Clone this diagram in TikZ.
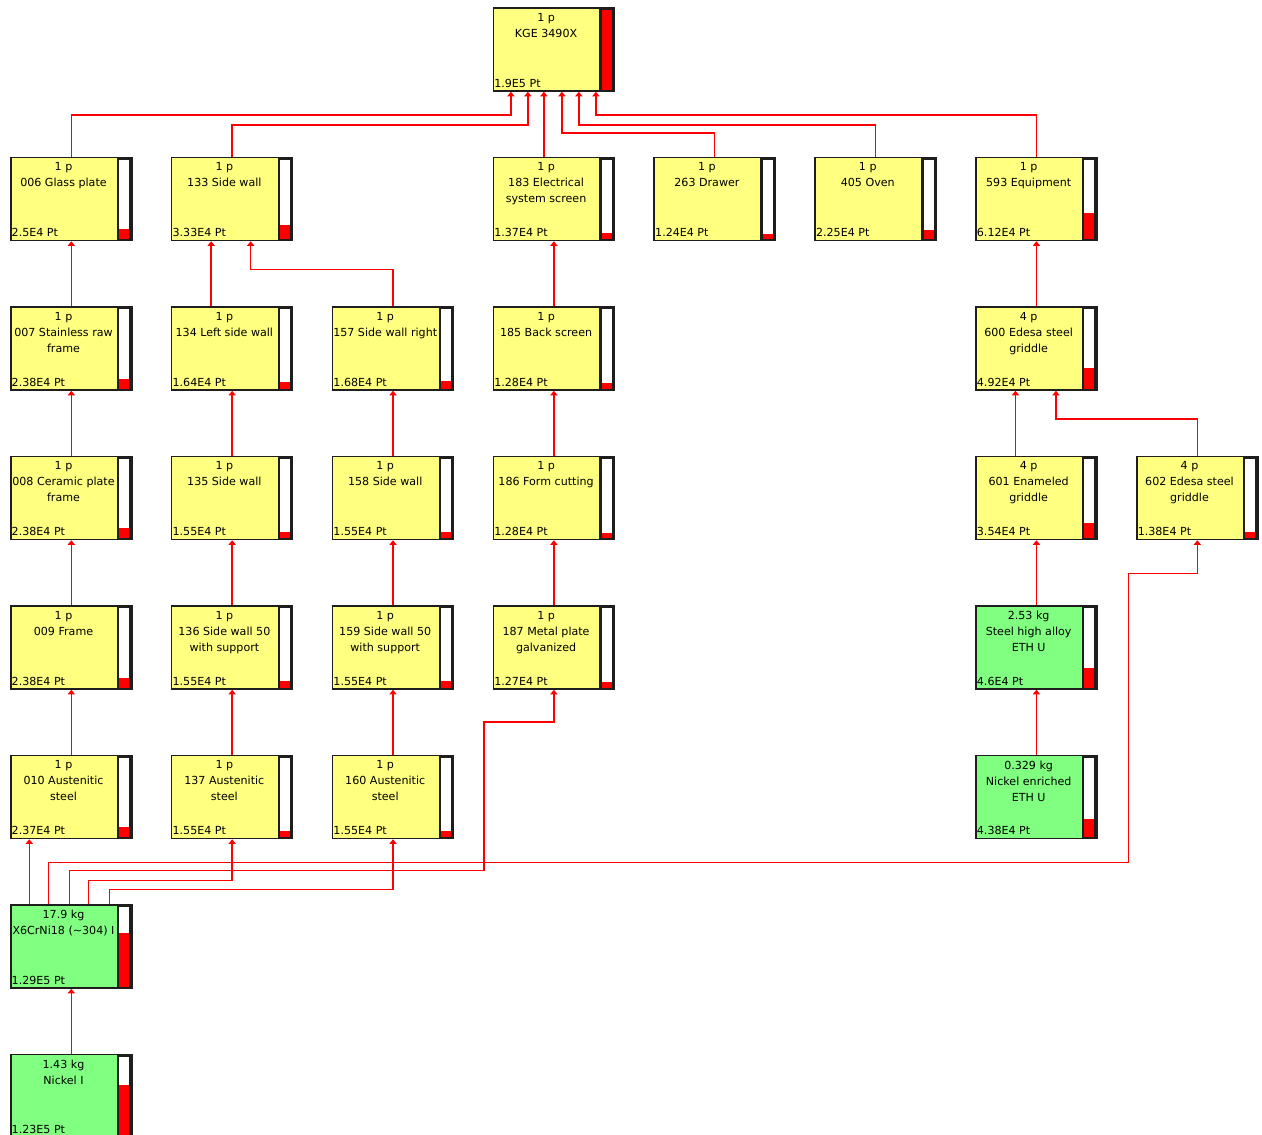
\documentclass[tikz,border=0pt]{standalone}
\usepackage{fontspec}
\setmainfont{DejaVu Sans}
\definecolor{UnitYellow}{RGB}{255,255,128}
\definecolor{MatGreen}  {RGB}{128,255,128}
\definecolor{Frame}     {RGB}{30,30,30}
\definecolor{Flow}      {RGB}{255,0,0}
\usetikzlibrary{arrows.meta,positioning,calc}

\begin{document}
\begin{tikzpicture}[x=160.86pt,y=-149.5pt,
  box/.style={draw=Frame,fill=UnitYellow,line width=1.5pt,
              minimum width=121pt,minimum height=83pt,inner sep=0pt},
  mat/.style={box,fill=MatGreen},
  head/.style={anchor=north,inner sep=0pt,xshift=-7.8pt,yshift=-5.9pt,
               align=center,font=\fontsize{11.1}{16}\selectfont},
  foot/.style={anchor=south west,inner sep=0pt,xshift=1.5pt,yshift=4.3pt,
               font=\fontsize{11.1}{16}\selectfont},
  lvl/.style={path picture={
    \fill[Frame] ([xshift=-15pt]path picture bounding box.north east)
      rectangle (path picture bounding box.south east);
    \fill[white] ([xshift=-12.5pt,yshift=-2pt]path picture bounding box.north east)
      rectangle ([xshift=-2.5pt,yshift=1.5pt]path picture bounding box.south east);
    \fill[red] ([xshift=-12.5pt,yshift=1.5pt]path picture bounding box.south east)
      rectangle ([xshift=-2.5pt,yshift={1.5pt+#1*79.5pt/19}]path picture bounding box.south east);}},
  cell/.style n args={3}{label={[head]north:{#1}},
                         label={[foot]south west:{#2}},lvl=#3},
  flow/.style={draw=Flow,line width=1.5pt,-{Triangle[length=4.5pt,width=7pt]}}]
  \useasboundingbox (-71.3pt,49.5pt) rectangle (1190.7pt,-1085.5pt);
  % product
  \node[box,cell={1 p\\KGE 3490X}{1.9E5 Pt}{19}] (kge) at (3,0) {};
  % assemblies
  \node[box,cell={1 p\\006 Glass plate}{2.5E4 Pt}{2.5}] (p006) at (0,1) {};
  \node[box,cell={1 p\\133 Side wall}{3.33E4 Pt}{3.33}] (p133) at (1,1) {};
  \node[box,cell={1 p\\183 Electrical\\system screen}{1.37E4 Pt}{1.37}] (p183) at (3,1) {};
  \node[box,cell={1 p\\263 Drawer}{1.24E4 Pt}{1.24}] (p263) at (4,1) {};
  \node[box,cell={1 p\\405 Oven}{2.25E4 Pt}{2.25}] (p405) at (5,1) {};
  \node[box,cell={1 p\\593 Equipment}{6.12E4 Pt}{6.12}] (p593) at (6,1) {};
  % parts
  \node[box,cell={1 p\\007 Stainless raw\\frame}{2.38E4 Pt}{2.38}] (p007) at (0,2) {};
  \node[box,cell={1 p\\134 Left side wall}{1.64E4 Pt}{1.64}] (p134) at (1,2) {};
  \node[box,cell={1 p\\157 Side wall right}{1.68E4 Pt}{1.68}] (p157) at (2,2) {};
  \node[box,cell={1 p\\185 Back screen}{1.28E4 Pt}{1.28}] (p185) at (3,2) {};
  \node[box,cell={4 p\\600 Edesa steel\\griddle}{4.92E4 Pt}{4.92}] (p600) at (6,2) {};
  \node[box,cell={1 p\\008 Ceramic plate\\frame}{2.38E4 Pt}{2.38}] (p008) at (0,3) {};
  \node[box,cell={1 p\\135 Side wall}{1.55E4 Pt}{1.55}] (p135) at (1,3) {};
  \node[box,cell={1 p\\158 Side wall}{1.55E4 Pt}{1.55}] (p158) at (2,3) {};
  \node[box,cell={1 p\\186 Form cutting}{1.28E4 Pt}{1.28}] (p186) at (3,3) {};
  \node[box,cell={4 p\\601 Enameled\\griddle}{3.54E4 Pt}{3.54}] (p601) at (6,3) {};
  \node[box,cell={4 p\\602 Edesa steel\\griddle}{1.38E4 Pt}{1.38}] (p602) at (7,3) {};
  \node[box,cell={1 p\\009 Frame}{2.38E4 Pt}{2.38}] (p009) at (0,4) {};
  \node[box,cell={1 p\\136 Side wall 50\\with support}{1.55E4 Pt}{1.55}] (p136) at (1,4) {};
  \node[box,cell={1 p\\159 Side wall 50\\with support}{1.55E4 Pt}{1.55}] (p159) at (2,4) {};
  \node[box,cell={1 p\\187 Metal plate\\galvanized}{1.27E4 Pt}{1.27}] (p187) at (3,4) {};
  \node[box,cell={1 p\\010 Austenitic\\steel}{2.37E4 Pt}{2.37}] (p010) at (0,5) {};
  \node[box,cell={1 p\\137 Austenitic\\steel}{1.55E4 Pt}{1.55}] (p137) at (1,5) {};
  \node[box,cell={1 p\\160 Austenitic\\steel}{1.55E4 Pt}{1.55}] (p160) at (2,5) {};
  % materials
  \node[mat,cell={2.53 kg\\Steel high alloy\\ETH U}{4.6E4 Pt}{4.6}] (steel) at (6,4) {};
  \node[mat,cell={0.329 kg\\Nickel enriched\\ETH U}{4.38E4 Pt}{4.38}] (nien) at (6,5) {};
  \node[mat,cell={17.9 kg\\X6CrNi18 (\textasciitilde304) I}{1.29E5 Pt}{12.9}] (x6) at (0,6) {};
  \node[mat,cell={1.43 kg\\Nickel I}{1.23E5 Pt}{12.3}] (nii) at (0,7) {};
  % into the product
  \draw[flow] (p006.north) -- ++(0,42pt) -| ([xshift=-43pt]kge.south);
  \draw[flow] (p133.north) -- ++(0,32pt) -| ([xshift=-26pt]kge.south);
  \draw[flow] ([xshift=-10pt]p183.north) -- ([xshift=-10pt]kge.south);
  \draw[flow] (p263.north) -- ++(0,24pt) -| ([xshift=8pt]kge.south);
  \draw[flow] (p405.north) -- ++(0,32pt) -| ([xshift=25pt]kge.south);
  \draw[flow] (p593.north) -- ++(0,42pt) -| ([xshift=42pt]kge.south);
  % chains
  \draw[flow] (p007) -- (p006);
  \draw[flow] ([xshift=-21pt]p134.north) -- ([xshift=-21pt]p133.south);
  \draw[flow] (p157.north) -- ++(0,37pt) -| ([xshift=18.5pt]p133.south);
  \draw[flow] (p185) -- (p183);
  \draw[flow] (p600) -- (p593);
  \draw[flow] (p008) -- (p007);
  \draw[flow] (p135) -- (p134);
  \draw[flow] (p158) -- (p157);
  \draw[flow] (p186) -- (p185);
  \draw[flow] ([xshift=-21pt]p601.north) -- ([xshift=-21pt]p600.south);
  \draw[flow] (p602.north) -- ++(0,37pt) -| ([xshift=19.5pt]p600.south);
  \draw[flow] (p009) -- (p008);
  \draw[flow] (p136) -- (p135);
  \draw[flow] (p159) -- (p158);
  \draw[flow] (p187) -- (p186);
  \draw[flow] (steel) -- (p601);
  \draw[flow] (p010) -- (p009);
  \draw[flow] (p137) -- (p136);
  \draw[flow] (p160) -- (p159);
  \draw[flow] (nien) -- (steel);
  % steel feeds
  \draw[flow] ([xshift=-42pt]x6.north) -- ([xshift=-42pt]p010.south);
  \draw[flow] ([xshift=-23pt]x6.north) -- ++(0,42pt)
    -| ([xshift=-69pt,yshift=-33pt]p602.south) -| (p602.south);
  \draw[flow] ([xshift=-2pt]x6.north) -- ++(0,34pt)
    -| ([xshift=-70pt,yshift=-32pt]p187.south) -| (p187.south);
  \draw[flow] ([xshift=17pt]x6.north) -- ++(0,24pt) -| (p137.south);
  \draw[flow] ([xshift=38pt]x6.north) -- ++(0,15pt) -| (p160.south);
  \draw[flow] (nii) -- (x6);
\end{tikzpicture}
\end{document}
